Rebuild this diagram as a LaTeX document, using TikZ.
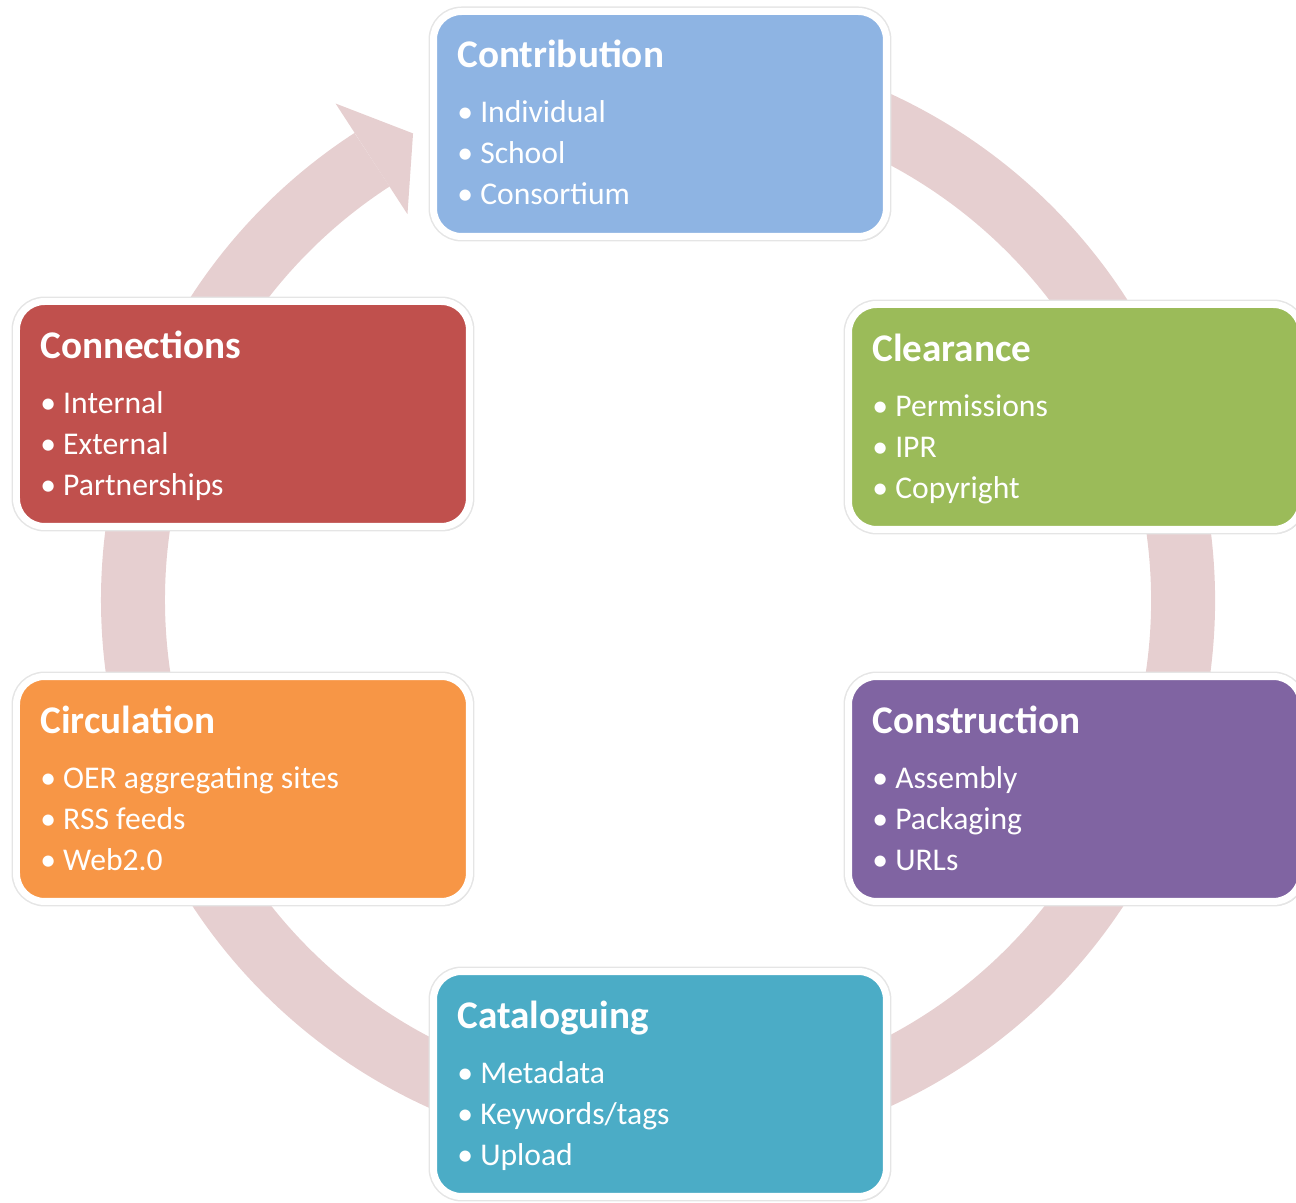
\documentclass[tikz,border=0pt]{standalone}
\usepackage{fontspec}
\setmainfont{Carlito}
\usetikzlibrary{shadows}

\definecolor{ringpink}{HTML}{E6CFD0}
\definecolor{contribblue}{HTML}{8EB4E3}
\definecolor{cleargreen}{HTML}{9BBB59}
\definecolor{connectred}{HTML}{C0504D}
\definecolor{constrpurple}{HTML}{8064A2}
\definecolor{circorange}{HTML}{F79646}
\definecolor{catteal}{HTML}{4BACC6}

\tikzset{
  stagebox/.style={draw=white, line width=0.14cm, rounded corners=0.56cm,
    anchor=north west, minimum width=9.06cm, minimum height=4.5cm,
    inner sep=0, outer sep=0,
    drop shadow={shadow xshift=1.5pt, shadow yshift=-2.5pt, opacity=0.25, fill=black!60},
    preaction={draw=black!10, line width=0.2cm}},
  stagetitle/.style={anchor=base west, inner sep=0, text=white,
    font=\fontsize{22.3}{26}\selectfont\bfseries},
  stageitem/.style={anchor=base west, inner sep=0, text=white,
    font=\fontsize{18}{22}\selectfont},
}

\newcommand{\drawstage}[8]{   % name, x, y, colour, title, item1, item2, item3
	\node[stagebox, fill=#4] (#1) at (#2, #3) {};
	\node[stagetitle] (#1-title) at ([shift={(23.5, 56.5)}]#1.north west) {#5};
	\node[stageitem] (#1-a) at ([shift={(23.5, 111.5)}]#1.north west) {• #6};
	\node[stageitem] (#1-b) at ([shift={(23.5, 152.5)}]#1.north west) {• #7};
	\node[stageitem] (#1-c) at ([shift={(23.5, 193.5)}]#1.north west) {• #8};
}

\begin{document}
\begin{tikzpicture}[x=0.02cm, y=-0.02cm]
\useasboundingbox (0, 0) rectangle (1296, 1203);

% the cycle ring with its arrow head
\draw[ringpink, line width=1.28cm] (658, 600) ++(-100:525) arc[start angle=-100, end angle=237, radius=525];
\fill[ringpink, shift={(658, 600)}] (237:460) -- (242.3:527) -- (237:592) -- cycle;

\drawstage{contrib}{433.5}{11.5}{contribblue}{Contribution}{Individual}{School}{Consortium};
\drawstage{clear}{848.5}{304.5}{cleargreen}{Clearance}{Permissions}{IPR}{Copyright};
\drawstage{constr}{848.5}{676.5}{constrpurple}{Construction}{Assembly}{Packaging}{URLs};
\drawstage{catal}{433.5}{971.5}{catteal}{Cataloguing}{Metadata}{Keywords/tags}{Upload};
\drawstage{circ}{16.5}{676.5}{circorange}{Circulation}{OER aggregating sites}{RSS feeds}{Web2.0};
\drawstage{connect}{16.5}{301.5}{connectred}{Connections}{Internal}{External}{Partnerships};
\end{tikzpicture}
\end{document}
